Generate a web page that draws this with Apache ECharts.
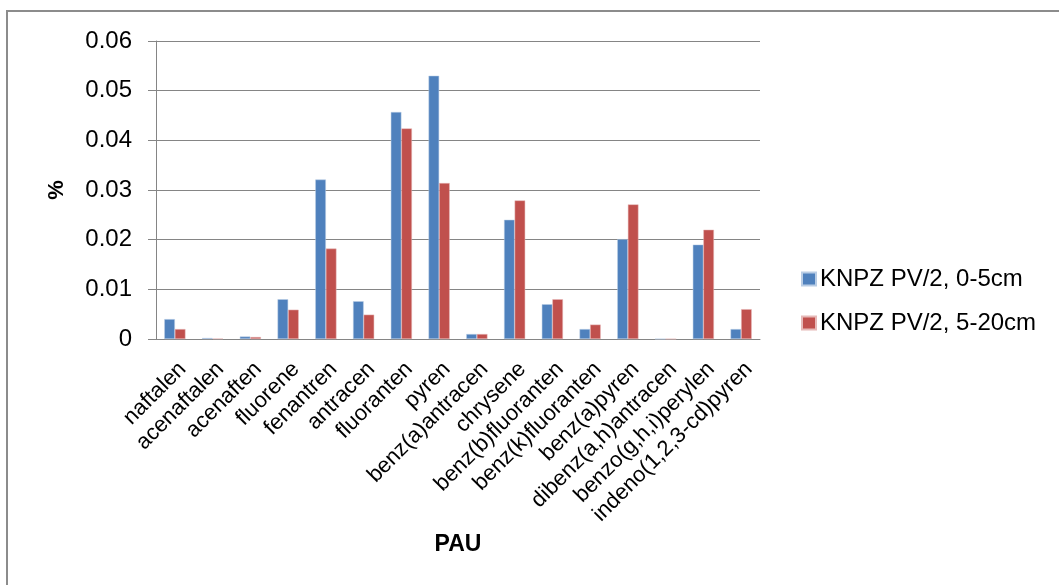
<!DOCTYPE html>
<html>
<head>
<meta charset="utf-8">
<script src="https://cdn.jsdelivr.net/npm/echarts@6/dist/echarts.min.js"></script>
<style>
  html, body { margin: 0; padding: 0; background: #fff; }
  #chart { width: 1059px; height: 585px; }
</style>
</head>
<body>
<div id="chart"></div>
<script>
// PAH compounds (PAU) measured in the soil profile
const categories = [
  'naftalen', 'acenaftalen', 'acenaften', 'fluorene', 'fenantren', 'antracen',
  'fluoranten', 'pyren', 'benz(a)antracen', 'chrysene', 'benz(b)fluoranten',
  'benz(k)fluoranten', 'benz(a)pyren', 'dibenz(a,h)antracen',
  'benzo(g,h,i)perylen', 'indeno(1,2,3-cd)pyren'
];
const seriesNames = ['KNPZ PV/2, 0-5cm', 'KNPZ PV/2, 5-20cm'];
// content in %, depth 0-5 cm
const depth0to5 = [
  0.004, 0.0002, 0.0005, 0.008, 0.0321, 0.0076, 0.0457, 0.053,
  0.001, 0.024, 0.007, 0.002, 0.0201, 0, 0.019, 0.002
];
// content in %, depth 5-20 cm
const depth5to20 = [
  0.002, 0.0001, 0.0004, 0.0059, 0.0182, 0.0049, 0.0424, 0.0314,
  0.001, 0.0279, 0.008, 0.0029, 0.0271, 0, 0.022, 0.006
];
const yTicks = { min: 0, max: 0.06, interval: 0.01 };

const font = '"Liberation Sans", Arial, sans-serif';
const lineGray = '#858585';
const chart = echarts.init(document.getElementById('chart'), null, { renderer: 'canvas' });

chart.setOption({
  animation: false,
  backgroundColor: '#fff',
  textStyle: { fontFamily: font, color: '#000' },
  graphic: [{
    type: 'rect',
    shape: { x: 7, y: 11, width: 1100, height: 620 },
    style: { fill: 'none', stroke: '#8c8c8c', lineWidth: 2 },
    silent: true
  }],
  grid: { left: 156, right: 299, top: 41, height: 298, containLabel: false },
  legend: {
    orient: 'vertical',
    left: 801,
    top: 267,
    padding: 0,
    itemWidth: 14,
    itemHeight: 13,
    itemGap: 20,
    icon: 'rect',
    textStyle: { fontFamily: font, fontSize: 24, color: '#000', padding: [0, 0, 0, -1] },
    data: seriesNames
  },
  xAxis: {
    type: 'category',
    data: categories,
    name: 'PAU',
    nameLocation: 'middle',
    nameGap: 188,
    nameTextStyle: { fontFamily: font, fontSize: 23, fontWeight: 'bold', color: '#000' },
    axisLine: { show: true, lineStyle: { color: lineGray, width: 1 } },
    axisTick: { show: false },
    axisLabel: {
      interval: 0,
      rotate: 45,
      margin: 19,
      align: 'right',
      verticalAlign: 'top',
      fontFamily: font,
      fontSize: 22,
      color: '#000'
    }
  },
  yAxis: {
    type: 'value',
    min: yTicks.min,
    max: yTicks.max,
    interval: yTicks.interval,
    name: '%',
    nameLocation: 'middle',
    nameGap: 88,
    nameRotate: 90,
    nameTextStyle: { fontFamily: font, fontSize: 22, fontWeight: 'bold', color: '#000' },
    axisLine: { show: true, lineStyle: { color: lineGray, width: 1 } },
    axisTick: { show: true, inside: false, length: 8, lineStyle: { color: lineGray } },
    splitLine: { show: true, lineStyle: { color: lineGray, width: 1 } },
    axisLabel: {
      margin: 24,
      fontFamily: font,
      fontSize: 24,
      color: '#000',
      formatter: v => (v === 0 ? '0' : v.toFixed(2))
    }
  },
  series: [
    {
      name: seriesNames[0],
      type: 'bar',
      data: depth0to5,
      barGap: '0%',
      barCategoryGap: '44%',
      itemStyle: { color: '#4F81BD', borderColor: '#b9cde5', borderWidth: 0.5 }
    },
    {
      name: seriesNames[1],
      type: 'bar',
      data: depth5to20,
      itemStyle: { color: '#C0504D', borderColor: '#e6b9b8', borderWidth: 0.5 }
    }
  ]
});
</script>
</body>
</html>
